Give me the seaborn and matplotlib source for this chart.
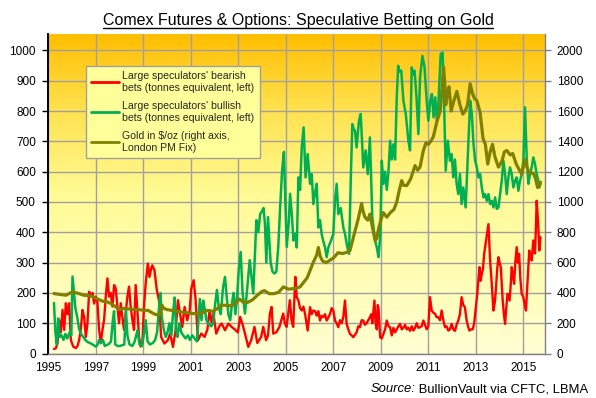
import numpy as np
import pandas as pd
import matplotlib
matplotlib.use("Agg")
import matplotlib.pyplot as plt
import seaborn as sns
from matplotlib.colors import LinearSegmentedColormap
from matplotlib.lines import Line2D

# ---------------- data ----------------
bear_years = [1995.24, 1995.32, 1995.39, 1995.46, 1995.53, 1995.60, 1995.67, 1995.74, 1995.81, 1995.88,
              1995.95, 1996.05, 1996.16, 1996.23, 1996.30, 1996.37, 1996.44, 1996.51, 1996.58, 1996.65,
              1996.72, 1996.79, 1996.86, 1996.93, 1997.00, 1997.07, 1997.14, 1997.21, 1997.28, 1997.35,
              1997.42, 1997.49, 1997.56, 1997.63, 1997.70, 1997.77, 1997.84, 1997.91, 1997.98, 1998.05,
              1998.12, 1998.19, 1998.26, 1998.33, 1998.40, 1998.47, 1998.54, 1998.61, 1998.68, 1998.75,
              1998.82, 1998.89, 1998.96, 1999.03, 1999.10, 1999.19, 1999.26, 1999.33, 1999.38, 1999.47,
              1999.57, 1999.66, 1999.75, 1999.89, 2000.03, 2000.13, 2000.25, 2000.36, 2000.46, 2000.53,
              2000.64, 2000.74, 2000.85, 2000.95, 2001.02, 2001.12, 2001.20, 2001.30, 2001.44, 2001.58,
              2001.70, 2001.79, 2001.88, 2001.95, 2002.07, 2002.20, 2002.30, 2002.44, 2002.58, 2002.72,
              2002.85, 2002.98, 2003.08, 2003.20, 2003.30, 2003.42, 2003.54, 2003.68, 2003.80, 2003.96,
              2004.05, 2004.17, 2004.25, 2004.33, 2004.40, 2004.47, 2004.60, 2004.73, 2004.89, 2004.96,
              2005.03, 2005.10, 2005.17, 2005.24, 2005.31, 2005.40, 2005.46, 2005.53, 2005.60, 2005.67,
              2005.74, 2005.81, 2005.87, 2005.92, 2006.02, 2006.09, 2006.16, 2006.23, 2006.30, 2006.37,
              2006.44, 2006.51, 2006.58, 2006.65, 2006.72, 2006.80, 2006.86, 2006.93, 2007.00, 2007.07,
              2007.14, 2007.21, 2007.28, 2007.35, 2007.42, 2007.49, 2007.56, 2007.63, 2007.70, 2007.77,
              2007.84, 2007.91, 2007.98, 2008.05, 2008.12, 2008.19, 2008.26, 2008.33, 2008.40, 2008.47,
              2008.54, 2008.60, 2008.64, 2008.69, 2008.73, 2008.78, 2008.83, 2008.87, 2008.90, 2008.97,
              2009.04, 2009.11, 2009.18, 2009.25, 2009.32, 2009.39, 2009.46, 2009.53, 2009.60, 2009.67,
              2009.74, 2009.81, 2009.88, 2009.95, 2010.02, 2010.09, 2010.16, 2010.23, 2010.30, 2010.37,
              2010.44, 2010.51, 2010.58, 2010.65, 2010.72, 2010.79, 2010.86, 2010.93, 2011.00, 2011.07,
              2011.14, 2011.21, 2011.28, 2011.35, 2011.42, 2011.49, 2011.56, 2011.63, 2011.70, 2011.77,
              2011.84, 2011.91, 2011.98, 2012.05, 2012.12, 2012.19, 2012.26, 2012.33, 2012.40, 2012.47,
              2012.54, 2012.61, 2012.67, 2012.73, 2012.80, 2012.87, 2012.93, 2012.97, 2013.06, 2013.15,
              2013.20, 2013.25, 2013.30, 2013.35, 2013.43, 2013.48, 2013.53, 2013.60, 2013.67, 2013.74,
              2013.80, 2013.85, 2013.90, 2013.95, 2014.00, 2014.05, 2014.13, 2014.18, 2014.23, 2014.28,
              2014.33, 2014.42, 2014.47, 2014.51, 2014.56, 2014.61, 2014.66, 2014.72, 2014.77, 2014.82,
              2014.87, 2014.93, 2015.00, 2015.06, 2015.11, 2015.17, 2015.25, 2015.30, 2015.35, 2015.42,
              2015.49, 2015.53, 2015.56, 2015.60, 2015.63, 2015.67, 2015.72]
bear_tonnes = [15, 18, 34, 111, 70, 144, 78, 166, 130, 166,
               45, 23, 18, 25, 45, 80, 144, 120, 55, 100,
               204, 188, 200, 165, 188, 170, 78, 34, 78, 111,
               188, 248, 188, 200, 155, 226, 215, 155, 100, 166,
               120, 78, 133, 188, 221, 155, 111, 78, 226, 144,
               56, 23, 34, 155, 231, 297, 253, 280, 291, 275,
               209, 176, 55, 33, 44, 66, 22, 77, 176, 140,
               88, 154, 110, 140, 214, 242, 180, 44, 66, 55,
               80, 143, 100, 132, 66, 90, 99, 77, 99, 88,
               80, 70, 121, 90, 60, 22, 44, 88, 35, 55,
               88, 44, 60, 132, 154, 66, 70, 88, 132, 100,
               88, 130, 176, 110, 88, 253, 186, 175, 150, 142,
               155, 131, 100, 76, 153, 130, 142, 140, 125, 140,
               109, 125, 120, 130, 109, 120, 131, 150, 142, 109,
               100, 87, 110, 100, 120, 175, 98, 80, 65, 60,
               54, 62, 70, 90, 87, 110, 109, 95, 100, 110,
               120, 130, 100, 140, 175, 100, 80, 160, 153, 54,
               50, 65, 80, 109, 90, 87, 60, 85, 70, 80,
               90, 98, 80, 85, 95, 80, 85, 75, 90, 76,
               85, 100, 85, 87, 90, 109, 95, 80, 90, 186,
               142, 135, 131, 120, 120, 110, 142, 110, 87, 90,
               76, 80, 98, 80, 75, 95, 109, 130, 186, 160,
               153, 110, 90, 76, 80, 80, 100, 131, 197, 285,
               240, 263, 280, 329, 373, 400, 427, 307, 230, 142,
               170, 219, 280, 318, 300, 285, 175, 130, 98, 150,
               197, 175, 230, 285, 260, 230, 300, 351, 300, 329,
               250, 197, 186, 160, 142, 230, 340, 320, 307, 373,
               330, 420, 504, 460, 416, 340, 384]

bull_years = [1995.24, 1995.30, 1995.36, 1995.42, 1995.48, 1995.56, 1995.64, 1995.72, 1995.80, 1995.90,
              1995.97, 1996.02, 1996.08, 1996.14, 1996.22, 1996.30, 1996.38, 1996.46, 1996.56, 1996.66,
              1996.78, 1996.90, 1997.00, 1997.08, 1997.14, 1997.22, 1997.30, 1997.38, 1997.46, 1997.56,
              1997.64, 1997.72, 1997.77, 1997.82, 1997.92, 1998.02, 1998.12, 1998.20, 1998.27, 1998.33,
              1998.42, 1998.54, 1998.64, 1998.70, 1998.76, 1998.84, 1998.94, 1999.04, 1999.10, 1999.18,
              1999.28, 1999.40, 1999.50, 1999.58, 1999.66, 1999.72, 1999.78, 1999.86, 1999.94, 2000.02,
              2000.10, 2000.18, 2000.26, 2000.32, 2000.38, 2000.44, 2000.52, 2000.60, 2000.68, 2000.78,
              2000.88, 2000.96, 2001.06, 2001.16, 2001.26, 2001.33, 2001.38, 2001.45, 2001.52, 2001.58,
              2001.66, 2001.76, 2001.86, 2001.94, 2002.02, 2002.10, 2002.18, 2002.26, 2002.36, 2002.44,
              2002.52, 2002.58, 2002.66, 2002.74, 2002.80, 2002.88, 2002.96, 2003.02, 2003.10, 2003.18,
              2003.28, 2003.38, 2003.48, 2003.56, 2003.63, 2003.70, 2003.76, 2003.84, 2003.92, 2004.00,
              2004.06, 2004.12, 2004.18, 2004.25, 2004.30, 2004.36, 2004.44, 2004.52, 2004.60, 2004.68,
              2004.76, 2004.84, 2004.92, 2004.98, 2005.04, 2005.12, 2005.18, 2005.26, 2005.32, 2005.40,
              2005.46, 2005.53, 2005.60, 2005.67, 2005.75, 2005.83, 2005.92, 2006.02, 2006.09, 2006.16,
              2006.23, 2006.30, 2006.37, 2006.44, 2006.51, 2006.58, 2006.65, 2006.72, 2006.79, 2006.90,
              2007.00, 2007.07, 2007.14, 2007.21, 2007.31, 2007.42, 2007.49, 2007.59, 2007.66, 2007.74,
              2007.80, 2007.86, 2007.91, 2007.98, 2008.08, 2008.15, 2008.21, 2008.26, 2008.36, 2008.45,
              2008.54, 2008.64, 2008.76, 2008.83, 2008.90, 2008.98, 2009.04, 2009.11, 2009.18, 2009.25,
              2009.32, 2009.39, 2009.46, 2009.53, 2009.60, 2009.67, 2009.73, 2009.79, 2009.86, 2009.95,
              2010.05, 2010.16, 2010.23, 2010.30, 2010.36, 2010.42, 2010.51, 2010.58, 2010.65, 2010.75,
              2010.84, 2010.93, 2011.00, 2011.08, 2011.15, 2011.22, 2011.29, 2011.36, 2011.43, 2011.52,
              2011.60, 2011.66, 2011.73, 2011.82, 2011.91, 2011.98, 2012.05, 2012.12, 2012.19, 2012.26,
              2012.33, 2012.40, 2012.47, 2012.57, 2012.64, 2012.70, 2012.76, 2012.83, 2012.90, 2012.97,
              2013.04, 2013.11, 2013.18, 2013.25, 2013.32, 2013.39, 2013.46, 2013.53, 2013.60, 2013.67,
              2013.74, 2013.81, 2013.88, 2013.95, 2014.02, 2014.09, 2014.16, 2014.23, 2014.30, 2014.37,
              2014.44, 2014.51, 2014.58, 2014.65, 2014.72, 2014.79, 2014.86, 2014.93, 2015.00, 2015.07,
              2015.14, 2015.21, 2015.28, 2015.35, 2015.42, 2015.49, 2015.56, 2015.63, 2015.67, 2015.72]
bull_tonnes = [167, 70, 30, 116, 55, 60, 45, 65, 50, 70,
               60, 254, 200, 150, 120, 80, 65, 56, 45, 38,
               34, 28, 23, 30, 45, 35, 45, 25, 28, 32,
               40, 111, 140, 30, 25, 25, 28, 30, 144, 60,
               30, 25, 40, 60, 77, 30, 25, 70, 110, 40,
               30, 35, 45, 70, 150, 200, 120, 80, 55, 70,
               100, 60, 140, 185, 80, 55, 100, 70, 60, 50,
               60, 45, 60, 50, 40, 120, 180, 110, 175, 150,
               110, 95, 90, 100, 160, 210, 150, 130, 220, 253,
               180, 130, 110, 170, 200, 130, 200, 280, 335, 200,
               132, 220, 308, 250, 198, 330, 440, 400, 460, 470,
               480, 430, 300, 450, 380, 300, 270, 264, 270, 350,
               480, 600, 665, 500, 352, 430, 527, 450, 373, 395,
               350, 581, 540, 680, 746, 581, 658, 560, 592, 493,
               530, 560, 416, 440, 394, 370, 350, 318, 350, 372,
               395, 504, 560, 460, 480, 416, 395, 350, 329, 592,
               757, 740, 736, 680, 768, 790, 700, 614, 670, 592,
               713, 450, 372, 350, 318, 394, 636, 560, 600, 540,
               600, 702, 640, 690, 640, 845, 949, 930, 933, 834,
               790, 702, 670, 944, 920, 933, 834, 724, 911, 982,
               944, 834, 768, 834, 856, 779, 845, 768, 834, 988,
               993, 834, 603, 702, 636, 658, 581, 640, 560, 526,
               592, 493, 548, 482, 614, 724, 834, 790, 691, 636,
               614, 581, 592, 548, 515, 526, 504, 526, 493, 504,
               482, 515, 477, 482, 526, 570, 636, 592, 526, 581,
               614, 592, 548, 570, 581, 537, 570, 592, 636, 812,
               647, 560, 592, 614, 647, 625, 592, 570, 548, 560]

gold_years = [1995.24, 1995.50, 1995.75, 1996.00, 1996.20, 1996.50, 1996.80, 1997.00, 1997.30, 1997.50,
              1997.70, 1997.90, 1998.00, 1998.20, 1998.50, 1998.70, 1999.00, 1999.20, 1999.45, 1999.60,
              1999.72, 1999.78, 1999.85, 2000.00, 2000.20, 2000.40, 2000.60, 2000.80, 2001.00, 2001.30,
              2001.50, 2001.70, 2001.90, 2002.10, 2002.30, 2002.50, 2002.70, 2002.90, 2003.05, 2003.20,
              2003.40, 2003.60, 2003.80, 2004.00, 2004.10, 2004.30, 2004.50, 2004.70, 2004.90, 2005.10,
              2005.30, 2005.45, 2005.60, 2005.75, 2005.90, 2006.00, 2006.15, 2006.30, 2006.37, 2006.45,
              2006.55, 2006.70, 2006.85, 2007.00, 2007.20, 2007.40, 2007.60, 2007.70, 2007.80, 2007.90,
              2008.05, 2008.19, 2008.25, 2008.33, 2008.45, 2008.54, 2008.65, 2008.76, 2008.83, 2008.90,
              2009.00, 2009.10, 2009.25, 2009.40, 2009.55, 2009.67, 2009.78, 2009.88, 2009.95, 2010.09,
              2010.25, 2010.44, 2010.55, 2010.65, 2010.79, 2010.90, 2011.00, 2011.10, 2011.21, 2011.36,
              2011.50, 2011.57, 2011.64, 2011.70, 2011.73, 2011.80, 2011.87, 2011.96, 2012.06, 2012.20,
              2012.33, 2012.45, 2012.55, 2012.65, 2012.76, 2012.85, 2012.95, 2013.04, 2013.18, 2013.30,
              2013.40, 2013.50, 2013.60, 2013.70, 2013.80, 2013.95, 2014.10, 2014.20, 2014.30, 2014.45,
              2014.55, 2014.70, 2014.80, 2014.93, 2015.07, 2015.15, 2015.25, 2015.42, 2015.50, 2015.60,
              2015.67, 2015.72]
gold_usd = [396, 390, 385, 406, 400, 385, 380, 365, 345, 340,
            325, 300, 290, 298, 292, 290, 287, 285, 262, 255,
            260, 320, 300, 290, 285, 280, 275, 270, 265, 262,
            270, 285, 278, 295, 320, 318, 315, 335, 360, 340,
            338, 355, 385, 410, 415, 395, 395, 405, 440, 425,
            428, 432, 440, 470, 500, 540, 600, 650, 700, 640,
            610, 600, 615, 630, 665, 660, 670, 680, 740, 800,
            890, 990, 940, 900, 880, 920, 830, 745, 760, 820,
            880, 930, 900, 930, 950, 1000, 1080, 1141, 1110, 1108,
            1150, 1240, 1210, 1230, 1340, 1390, 1380, 1400, 1430, 1530,
            1600, 1734, 1890, 1760, 1640, 1720, 1760, 1600, 1660, 1730,
            1640, 1580, 1600, 1640, 1780, 1720, 1680, 1670, 1590, 1420,
            1380, 1250, 1330, 1380, 1300, 1230, 1270, 1330, 1340, 1310,
            1320, 1250, 1220, 1185, 1280, 1230, 1190, 1190, 1160, 1095,
            1110, 1130]

bear_label = "Large speculators' bearish\nbets (tonnes equivalent, left)"
bull_label = "Large speculators' bullish\nbets (tonnes equivalent, left)"
gold_label = "Gold in $/oz (right axis,\nLondon PM Fix)"
title_text = "Comex Futures & Options: Speculative Betting on Gold"
source_italic = "Source:"
source_rest = " BullionVault via CFTC, LBMA"
x_ticks = list(range(1995, 2016, 2))
left_ticks = list(range(0, 1001, 100))
right_ticks = list(range(0, 2001, 200))

# ---------------- style ----------------
sns.set_style("white")
plt.rcParams['font.family'] = ['Liberation Sans', 'DejaVu Sans']
plt.rcParams['mathtext.default'] = 'regular'
plt.rcParams['text.usetex'] = False

fig = plt.figure(figsize=(5.96, 3.98), dpi=100)
fig.patch.set_facecolor("white")
ax = fig.add_axes([0.0810, 0.1116, 0.8334, 0.8030])

cmap = LinearSegmentedColormap.from_list(
    "bg", [(0.0, "#FFFFD2"), (0.5, "#FFFB95"), (0.78, "#FFE04A"), (1.0, "#FFBE00")])
grad = np.linspace(0, 1, 256).reshape(-1, 1)
ax.imshow(grad, cmap=cmap, extent=[0, 1, 0, 1], transform=ax.transAxes,
          aspect="auto", origin="lower", zorder=0, interpolation="bilinear")

df_bear = pd.DataFrame({"year": bear_years, "tonnes": bear_tonnes})
df_bull = pd.DataFrame({"year": bull_years, "tonnes": bull_tonnes})
df_gold = pd.DataFrame({"year": gold_years, "usd": gold_usd})

sns.lineplot(data=df_bear, x="year", y="tonnes", ax=ax, color="#FF0000",
             lw=1.7, label=bear_label, legend=False, zorder=3)
sns.lineplot(data=df_bull, x="year", y="tonnes", ax=ax, color="#00B050",
             lw=1.8, label=bull_label, legend=False, zorder=4)

ax2 = ax.twinx()
sns.lineplot(data=df_gold, x="year", y="usd", ax=ax2, color="#808000",
             lw=2.3, label=gold_label, legend=False, zorder=3)

ax.set_xlim(1995, 2015.91)
ax.set_ylim(0, 1054)
ax2.set_ylim(0, 2108)
ax.set_xticks(x_ticks)
ax.set_xticklabels([str(t) for t in x_ticks])
ax.set_yticks(left_ticks)
ax2.set_yticks(right_ticks)
ax.set_xlabel("")
ax.set_ylabel("")
ax2.set_xlabel("")
ax2.set_ylabel("")

ax.set_axisbelow(True)
ax.grid(True, color="#A0A0A0", lw=1.0)
ax2.grid(False)

for s in ["top", "right"]:
    ax.spines[s].set_visible(False)
for s in ["top", "left", "bottom"]:
    ax2.spines[s].set_visible(False)
ax.spines["left"].set_color("black")
ax.spines["left"].set_linewidth(1.4)
ax.spines["bottom"].set_color("#808080")
ax.spines["bottom"].set_linewidth(1.0)
ax2.spines["right"].set_color("#808080")
ax2.spines["right"].set_linewidth(1.0)

ax.tick_params(axis="y", direction="out", length=4, width=1, color="black",
               pad=5, labelsize=8.5, labelcolor="black", left=True)
ax.tick_params(axis="x", length=0, pad=6, labelsize=8.5, labelcolor="black", bottom=True)
ax2.tick_params(axis="y", direction="out", length=4, width=1, color="#808080",
                pad=4.5, labelsize=8.5, labelcolor="black", right=True)

h = [l for l in ax.get_lines() if l.get_label() in (bear_label, bull_label)]
h += [l for l in ax2.get_lines() if l.get_label() == gold_label]
leg = ax2.legend(handles=h, labels=[bear_label, bull_label, gold_label],
                 loc="upper left", bbox_to_anchor=(0.076, 0.900), borderaxespad=0,
                 fontsize=7.6, frameon=True, fancybox=False, framealpha=1,
                 facecolor="#FFFF99", edgecolor="#A0A0A0", handlelength=2.6,
                 handletextpad=0.35, labelspacing=0.8, borderpad=0.5)
leg.get_frame().set_linewidth(1.0)
for lh in leg.get_lines():
    lh.set_linewidth(2.0)

title = fig.text(0.5, 1 - 25.5 / 398, title_text, ha="center", va="baseline",
                 fontsize=11.5, color="black")
src_rest = fig.text(0.987, 1 - 392.5 / 398, source_rest, ha="right", va="baseline",
                    fontsize=9.4, color="black")

fig.canvas.draw()
renderer = fig.canvas.get_renderer()
tb = title.get_window_extent(renderer)
W, H = fig.get_size_inches() * fig.dpi
uy = (398 - 27.8) / 398
fig.add_artist(Line2D([tb.x0 / W, tb.x1 / W], [uy, uy], transform=fig.transFigure,
                      color="black", lw=1.0))
rb = src_rest.get_window_extent(renderer)
fig.text(rb.x0 / W, 1 - 392.5 / 398, source_italic, ha="right", va="baseline",
         fontsize=9.4, style="italic", color="black")

fig.savefig("out.png", dpi=100)
